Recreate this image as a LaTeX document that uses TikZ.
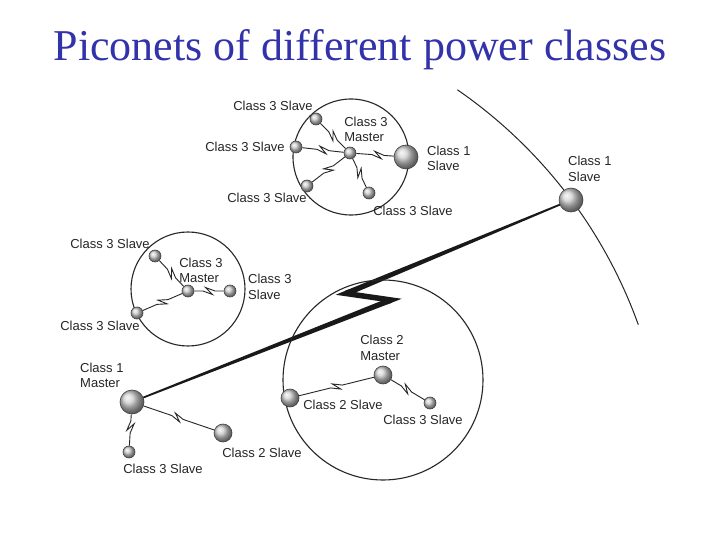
\documentclass[tikz,border=0pt]{standalone}
\usepackage{fontspec}
\setmainfont{Liberation Serif}
\newfontfamily\labfont{Liberation Sans}
\usetikzlibrary{calc,backgrounds}
\definecolor{titleblue}{RGB}{50,50,170}
\tikzset{
  ball/.style={circle, inner sep=0pt, draw=black!75, line width=0.6pt, ball color=gray!38},
  cone/.style={ball, minimum size=24pt},
  ctwo/.style={ball, minimum size=18pt},
  cthree/.style={ball, minimum size=12pt},
  lbl/.style={font=\labfont\fontsize{13}{15.5}\selectfont, text=black!85, inner sep=0pt},
  net/.style={draw=black!85, line width=1.1pt},
  link/.style={draw=black!85, line width=0.9pt, line join=miter},
  zz/.style={to path={-- ($(\tikztostart)!0.5!(\tikztotarget)!-6pt!(\tikztotarget)$)
     -- ($(\tikztostart)!0.5!(\tikztotarget)!3.5pt!(\tikztotarget)!3.5pt!-90:(\tikztotarget)$)
     -- ($(\tikztostart)!0.5!(\tikztotarget)!-3.5pt!(\tikztotarget)!3.5pt!90:(\tikztotarget)$)
     -- ($(\tikztostart)!0.5!(\tikztotarget)!6pt!(\tikztotarget)$)
     -- (\tikztotarget)}}
}
\begin{document}
\begin{tikzpicture}[x=1pt,y=-1pt]
\useasboundingbox (0,0) rectangle (720,540);

\node[font=\fontsize{44}{44}\selectfont, text=titleblue, anchor=base, inner sep=0pt] (title) at (360,61) {Piconets of different power classes};

% piconet circles
\coordinate (netA) at (351,157);
\coordinate (netB) at (188,289);
\coordinate (netC) at (383,380);
\coordinate (arcC) at (182,489);
\draw[net] (netA) circle[radius=58pt];
\draw[net] (netB) circle[radius=57pt];
\draw[net] (netC) circle[radius=100pt];
\draw[net, line width=1pt] ($(arcC)+(55.4:485pt)$) arc[start angle=55.4, end angle=19.8, radius=485pt];

% top piconet
\node[cthree] (am) at (350,153) {};
\node[cthree] (as1) at (316,119) {};
\node[cthree] (as2) at (296,147) {};
\node[cthree] (as3) at (307,186) {};
\node[cthree] (as4) at (369,193) {};
\node[cone] (as5) at (406,157) {};

% left piconet
\node[cthree] (bm) at (188,291) {};
\node[cthree] (bs1) at (155,256) {};
\node[cthree] (bs2) at (230,291) {};
\node[cthree] (bs3) at (137,313) {};

% class 1 master group
\node[cone] (cm) at (132,402) {};
\node[cthree] (cs1) at (129,452) {};
\node[ctwo] (cs2) at (223,433) {};
\node[cone] (cs3) at (571,200) {};

% class 2 piconet
\node[ctwo] (dm) at (383,375) {};
\node[ctwo] (ds1) at (290,398) {};
\node[cthree] (ds2) at (430,403) {};

\begin{scope}[on background layer]
\fill[white] (0,0) rectangle (720,540);
\foreach \s in {as1,as2,as3,as4,as5} \draw[link] (am) to[zz] (\s);
\foreach \s in {bs1,bs2,bs3} \draw[link] (bm) to[zz] (\s);
\foreach \s in {cs1,cs2} \draw[link] (cm) to[zz] (\s);
\foreach \s in {ds1,ds2} \draw[link] (dm) to[zz] (\s);
% big lightning link class 1 master -> class 1 slave
\coordinate (boltR) at (391,300);
\coordinate (boltL) at (346,293.5);
\fill[black!90] ($(cm)!0.8pt!90:(boltR)$) -- ($(boltR)!2.8pt!-90:(cm)$) -- ($(boltR)!2.8pt!90:(cm)$) -- ($(cm)!0.8pt!-90:(boltR)$) -- cycle;
\fill[black!90] ($(boltL)!2.8pt!90:(cs3)$) -- ($(cs3)!0.8pt!-90:(boltL)$) -- ($(cs3)!0.8pt!90:(boltL)$) -- ($(boltL)!2.8pt!-90:(cs3)$) -- cycle;
\draw[black!90, line width=5.5pt, line join=miter, miter limit=20] ($(boltR)!5pt!(cm)$) -- (boltR) -- (boltL) -- ($(boltL)!5pt!(cs3)$);
\end{scope}

% labels
\node[lbl] (la1) at (273,106) {Class 3 Slave};
\node[lbl, align=left] (la0) at (366,129.5) {Class 3\\Master};
\node[lbl] (la2) at (245,147) {Class 3 Slave};
\node[lbl] (la3) at (267,198) {Class 3 Slave};
\node[lbl] (la4) at (413,211) {Class 3 Slave};
\node[lbl, align=left, anchor=west] (la5) at (427,158.5) {Class 1\\Slave};

\node[lbl] (lb1) at (110,244) {Class 3 Slave};
\node[lbl, align=left] (lb0) at (201,270.5) {Class 3\\Master};
\node[lbl, align=left, anchor=west] (lb2) at (248,287) {Class 3\\Slave};
\node[lbl] (lb3) at (100,326) {Class 3 Slave};

\node[lbl, align=left, anchor=west] (lc0) at (80,375.5) {Class 1\\Master};
\node[lbl] (lc1) at (163,469) {Class 3 Slave};
\node[lbl] (lc2) at (262,453) {Class 2 Slave};
\node[lbl, align=left, anchor=west] (lc3) at (568,169) {Class 1\\Slave};

\node[lbl, align=left] (ld0) at (382,348) {Class 2\\Master};
\node[lbl] (ld1) at (343,405) {Class 2 Slave};
\node[lbl] (ld2) at (423,420) {Class 3 Slave};
\end{tikzpicture}
\end{document}
